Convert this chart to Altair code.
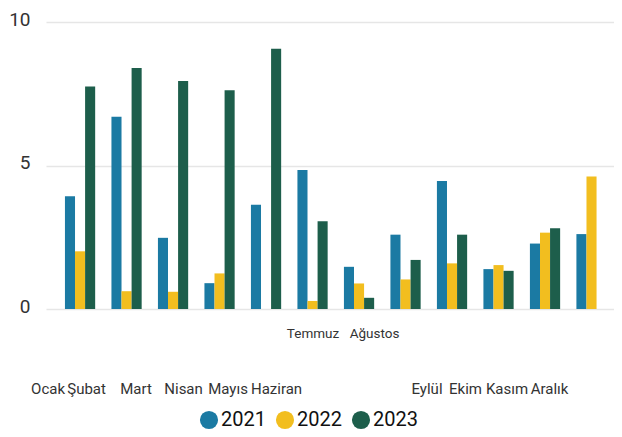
import altair as alt
import pandas as pd

months = ["Ocak", "Şubat", "Mart", "Nisan", "Mayıs", "Haziran",
          "Temmuz", "Ağustos", "Eylül", "Ekim", "Kasım", "Aralık"]
years = ["2021", "2022", "2023"]
v2021 = [3.93, 6.70, 2.48, 0.90, 3.63, 4.84, 1.47, 2.59, 4.46, 1.39, 2.28, 2.61]
v2022 = [2.01, 0.62, 0.60, 1.24, 0.00, 0.28, 0.89, 1.03, 1.59, 1.53, 2.66, 4.62]
v2023 = [7.75, 8.40, 7.94, 7.62, 9.07, 3.06, 0.39, 1.71, 2.59, 1.33, 2.81, 0.00]
colors = ["#1B7AA3", "#F2BE1F", "#1D5E4B"]

# label placement styles (as in the reference rendering)
label_shift = {"Ocak": -32, "Şubat": -40, "Mart": -37, "Nisan": -36, "Mayıs": -38,
               "Haziran": -36, "Temmuz": -46, "Ağustos": -31, "Eylül": -25,
               "Ekim": -33, "Kasım": -38, "Aralık": -42}
upper_row = ["Temmuz", "Ağustos"]

rows = []
for y, vals in zip(years, [v2021, v2022, v2023]):
    for m, v in zip(months, vals):
        rows.append({"Ay": m, "Yıl": y, "Değer": v})
df = pd.DataFrame(rows)

FONT = "Roboto, sans-serif"

offset_cond = {
    "condition": [{"test": f"datum.value === '{m}'", "value": s} for m, s in label_shift.items()],
    "value": 0,
}
upper_test = " || ".join(f"datum.value === '{m}'" for m in upper_row)
pad_cond = {"condition": {"test": upper_test, "value": 28}, "value": 84}
size_cond = {"condition": {"test": upper_test, "value": 13.5}, "value": 15}

chart = alt.Chart(df).mark_bar().encode(
    x=alt.X("Ay:N", sort=months, title=None,
            scale=alt.Scale(paddingInner=0.35, paddingOuter=0.283, align=0.72),
            axis=alt.Axis(labelAngle=0, ticks=False, domain=False, grid=False,
                          labelFont=FONT, labelColor="#333333",
                          labelBaseline="alphabetic", labelAlign="center",
                          labelOffset=offset_cond, labelPadding=pad_cond,
                          labelFontSize=size_cond, labelOverlap=False,
                          labelLimit=0)),
    xOffset=alt.XOffset("Yıl:N", sort=years),
    y=alt.Y("Değer:Q", title=None, scale=alt.Scale(domain=[0, 10], nice=False),
            axis=alt.Axis(values=[0, 5, 10], ticks=False, domain=False,
                          labelFont=FONT, labelFontSize=19, labelColor="#333333",
                          labelPadding=16, labelOffset=-3,
                          gridColor="#E6E6E6", gridWidth=1.5)),
    color=alt.Color("Yıl:N", sort=years,
                    scale=alt.Scale(domain=years, range=colors),
                    legend=alt.Legend(title=None, orient="none", direction="horizontal",
                                      legendX=153, legendY=388,
                                      symbolType="circle", symbolSize=330,
                                      symbolStrokeWidth=0, symbolOpacity=1,
                                      labelFont=FONT, labelFontSize=20,
                                      labelColor="#111111", labelOffset=2,
                                      columnPadding=9)),
).properties(
    width=568, height=287,
    padding={"left": 0, "top": 2, "right": 0, "bottom": 0},
).configure_view(stroke=None)

chart.save("out.html", embed_options={"renderer": "svg", "actions": False})
